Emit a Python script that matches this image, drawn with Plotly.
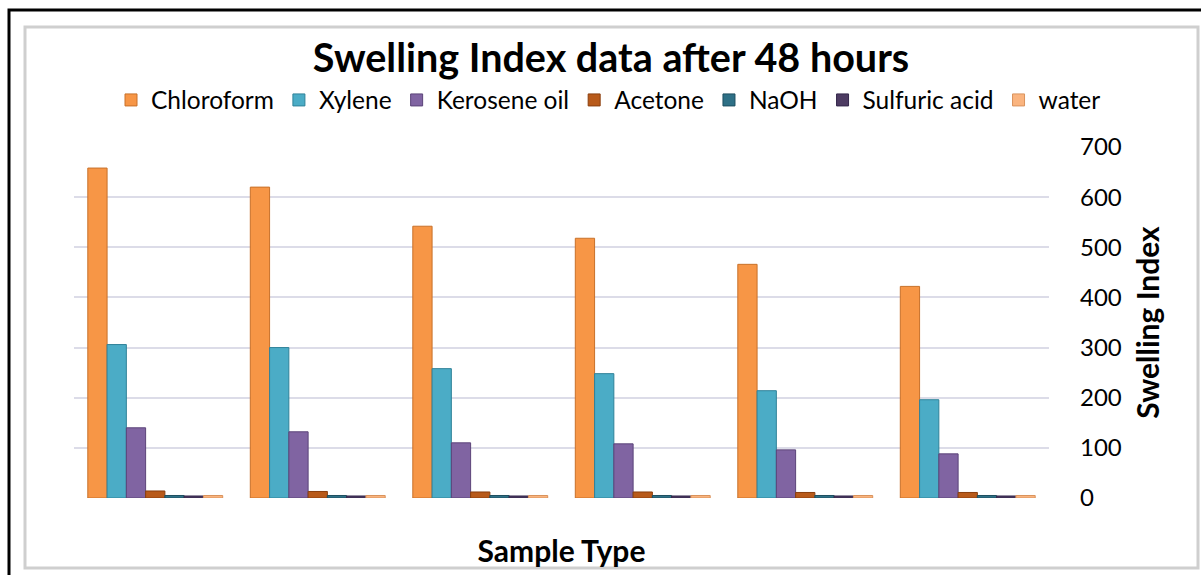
import plotly.graph_objects as go

samples = ["Sample 1", "Sample 2", "Sample 3", "Sample 4", "Sample 5", "Sample 6"]
chloroform = [658, 620, 542, 518, 466, 422]
xylene = [306, 300, 258, 248, 214, 196]
kerosene = [140, 132, 110, 108, 96, 88]
acetone = [14, 13, 12, 12, 11, 11]
naoh = [5, 5, 5, 5, 5, 5]
sulfuric = [4, 4, 4, 4, 4, 4]
water = [5, 5, 5, 5, 5, 5]
y_ticks = [0, 100, 200, 300, 400, 500, 600, 700]

series = [
    ("Chloroform", chloroform, "#f79646", "#c8712a"),
    ("Xylene", xylene, "#4bacc6", "#2f8299"),
    ("Kerosene oil", kerosene, "#8064a2", "#5b4479"),
    ("Acetone", acetone, "#b85a1a", "#8a3f0e"),
    ("NaOH", naoh, "#2e7086", "#1d4f60"),
    ("Sulfuric acid", sulfuric, "#4d3b62", "#33264a"),
    ("water", water, "#fab47f", "#d9925c"),
]

FONT = "Lato"

fig = go.Figure()
for name, vals, col, edge in series:
    fig.add_trace(go.Bar(
        x=samples, y=vals, name=name,
        marker=dict(color=col, line=dict(color=edge, width=1)),
    ))

L, R, T, B = 74, 152, 147, 77
W_PLOT = 1201 - L - R
H_PLOT = 575 - T - B

fig.update_layout(
    width=1201, height=575,
    margin=dict(l=L, r=R, t=T, b=B, pad=0, autoexpand=False),
    paper_bgcolor="white", plot_bgcolor="white",
    barmode="group", bargap=0.17, bargroupgap=0,
    font=dict(family=FONT, color="black"),
    title=dict(
        text="<b>Swelling Index data after 48 hours</b>",
        x=611 / 1201, xanchor="center", xref="container",
        y=1 - 58 / 575, yanchor="middle", yref="container",
        font=dict(family=FONT, size=39.5, color="black"),
    ),
    legend=dict(
        orientation="h",
        xref="paper", yref="paper",
        x=(1106 - L) / W_PLOT, xanchor="right",
        y=(575 - B - 100) / H_PLOT, yanchor="middle",
        font=dict(family=FONT, size=24.5, color="black"),
        itemclick=False, itemdoubleclick=False,
        bgcolor="rgba(0,0,0,0)",
    ),
    xaxis=dict(
        showticklabels=False, showgrid=False, zeroline=False,
        showline=False, ticks="",
        title=dict(text="<b>Sample Type</b>", standoff=42,
                   font=dict(family=FONT, size=30, color="black")),
        range=[-0.5, 5.5],
    ),
    yaxis=dict(
        side="right", range=[0, 700],
        tickvals=y_ticks, ticks="",
        ticklabelstandoff=30,
        tickfont=dict(family=FONT, size=24, color="black"),
        showgrid=True, gridcolor="#dcdce8", gridwidth=2,
        zeroline=False, showline=False,
        title=dict(text="<b>Swelling Index</b>", standoff=17,
                   font=dict(family=FONT, size=30, color="black")),
    ),
    shapes=[
        dict(type="rect", xref="paper", yref="paper",
             xsizemode="pixel", ysizemode="pixel", xanchor=0, yanchor=0,
             x0=9 - L, x1=1215 - L, y0=(575 - B) - 590, y1=(575 - B) - 10,
             line=dict(color="black", width=3), layer="above"),
        dict(type="rect", xref="paper", yref="paper",
             xsizemode="pixel", ysizemode="pixel", xanchor=0, yanchor=0,
             x0=25 - L, x1=1198 - L, y0=(575 - B) - 568, y1=(575 - B) - 27,
             line=dict(color="#cfcfcf", width=3), layer="below"),
    ],
)

fig.write_html("out.html")
